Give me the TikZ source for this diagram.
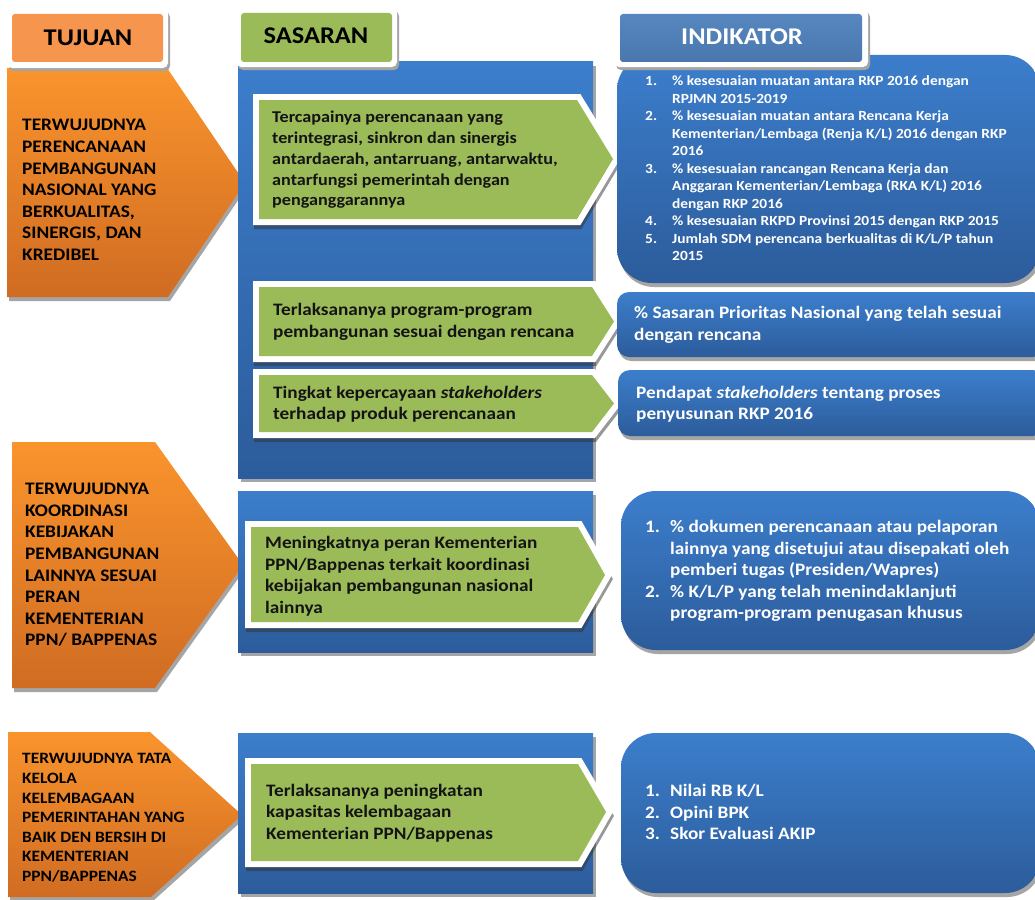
\documentclass[tikz,border=0pt]{standalone}
\usepackage{fontspec}
\setmainfont{Carlito}[FakeStretch=1.1]
\definecolor{orgTop}{RGB}{250,148,45}
\definecolor{orgBot}{RGB}{208,108,34}
\definecolor{orgHead}{RGB}{246,150,78}
\definecolor{grn}{RGB}{155,187,89}
\definecolor{bluTop}{RGB}{60,126,204}
\definecolor{bluBot}{RGB}{44,92,155}
\definecolor{bluHead}{RGB}{79,129,189}
\definecolor{shd}{RGB}{165,165,165}
\newcommand{\fs}[2]{\fontsize{#1}{#2}\selectfont}
\newcommand{\itm}[1]{\makebox[27pt][l]{#1}}
\newcommand{\itmb}[1]{\makebox[25pt][l]{#1}}
\tikzset{
  otext/.style={anchor=west, align=left, inner sep=0pt, text=black},
  gtext/.style={anchor=west, align=left, inner sep=0pt, text=black!92},
  itext/.style={anchor=west, align=left, inner sep=0pt, text=white},
  htext/.style={inner sep=0pt, font=\fs{24}{28}\bfseries},
  orangearrow/.style={top color=orgTop, bottom color=orgBot},
  graysh/.style={fill=shd},
  bluepanel/.style={top color=bluTop, bottom color=bluBot},
  greenarrow/.style={fill=grn,
    preaction={draw=black!80, line width=12pt, opacity=.5, transform canvas={shift={(1pt,-4pt)}}},
    preaction={draw=white, line width=12pt}},
  headframe/.style={fill=white, rounded corners=5pt, preaction={fill=shd, transform canvas={shift={(2pt,-3pt)}}}},
}
\begin{document}
\begin{tikzpicture}[x=1pt,y=-1pt]
\path[use as bounding box, clip] (0,0) rectangle (1035,899);
\fill[white] (0,0) rectangle (1035,899);

% ---------- orange arrows (Tujuan) ----------
\fill[graysh] (9,72) -- (169,72) -- (247,187) -- (170,301) -- (9,301) -- cycle;
\shade[orangearrow] (7,68) -- (167,68) -- (245,183) -- (168,297) -- (7,297) -- cycle;
\fill[graysh] (14,446) -- (157,446) -- (245,569) -- (157,692) -- (14,692) -- cycle;
\shade[orangearrow] (12,442) -- (155,442) -- (243,565) -- (155,688) -- (12,688) -- cycle;
\fill[graysh] (10,736) -- (152,736) -- (244,819) -- (153,901) -- (10,901) -- cycle;
\shade[orangearrow] (8,732) -- (150,732) -- (242,815) -- (151,897) -- (8,897) -- cycle;

% ---------- blue panels (Sasaran) ----------
\fill[graysh] (241,66) rectangle (596,482);
\shade[bluepanel] (238,62) rectangle (593,478);
\fill[graysh] (241,495) rectangle (596,656);
\shade[bluepanel] (238,491) rectangle (593,652);
\fill[graysh] (241,737) rectangle (596,897);
\shade[bluepanel] (238,733) rectangle (593,893);

% ---------- green arrows ----------
\path[greenarrow] (259,100) -- (577,100) -- (613,159) -- (577,219) -- (259,219) -- cycle;
\path[greenarrow] (259,287) -- (592,287) -- (614,321.5) -- (592,356) -- (259,356) -- cycle;
\path[greenarrow] (259,375) -- (592,375) -- (614,403.5) -- (592,432) -- (259,432) -- cycle;
\path[greenarrow] (251,527) -- (578,527) -- (605,575) -- (578,622) -- (251,622) -- cycle;
\path[greenarrow] (251,764) -- (578,764) -- (606,812) -- (578,861) -- (251,861) -- cycle;

% ---------- indicator boxes ----------
\fill[graysh, rounded corners=35pt] (619,59) rectangle (1042,287);
\shade[bluepanel, rounded corners=35pt] (617,55) rectangle (1040,283);
\fill[graysh, rounded corners=12pt] (619,296) rectangle (1047,361);
\shade[bluepanel, rounded corners=12pt] (617,292) rectangle (1045,357);
\fill[graysh, rounded corners=12pt] (620,374) rectangle (1047,440);
\shade[bluepanel, rounded corners=12pt] (618,370) rectangle (1045,436);
\fill[graysh, rounded corners=35pt] (623,495) rectangle (1042,654);
\shade[bluepanel, rounded corners=35pt] (621,491) rectangle (1040,650);
\fill[graysh, rounded corners=35pt] (623,737) rectangle (1042,897);
\shade[bluepanel, rounded corners=35pt] (621,733) rectangle (1040,893);

% ---------- headers ----------
\path[headframe] (7,9) rectangle (168,68);
\fill[orgHead, rounded corners=3pt] (12,14) rectangle (163,62);
\node[htext, text=black] (hTujuan) at (88,38) {TUJUAN};
\path[headframe] (236,8) rectangle (397,67);
\fill[grn, rounded corners=3pt] (241,13) rectangle (392,62);
\node[htext, text=black] (hSasaran) at (316,36) {SASARAN};
\path[headframe] (614,9) rectangle (868,67);
\shade[top color=bluHead!95!white, bottom color=bluHead!92!black, rounded corners=3pt] (620,14) rectangle (862,62);
\node[htext, text=white] (hIndikator) at (742,37) {INDIKATOR};

% ---------- texts: tujuan ----------
\node[otext, font=\fs{17.6}{21.6}\bfseries] (tuj1) at (22,190)
  {TERWUJUDNYA\\PERENCANAAN\\PEMBANGUNAN\\NASIONAL YANG\\BERKUALITAS,\\SINERGIS, DAN\\KREDIBEL};
\node[otext, font=\fs{17.6}{21.6}\bfseries] (tuj2) at (25,565)
  {TERWUJUDNYA\\KOORDINASI\\KEBIJAKAN\\PEMBANGUNAN\\LAINNYA SESUAI\\PERAN\\KEMENTERIAN\\PPN/ BAPPENAS};
\node[otext, font=\fs{15.8}{19.6}\bfseries] (tuj3) at (22,818)
  {TERWUJUDNYA TATA\\KELOLA\\KELEMBAGAAN\\PEMERINTAHAN YANG\\BAIK DEN BERSIH DI\\KEMENTERIAN\\PPN/BAPPENAS};

% ---------- texts: sasaran ----------
\node[gtext, font=\fs{16.5}{20.8}\bfseries] (sas1) at (272,160)
  {Tercapainya perencanaan yang\\terintegrasi, sinkron dan sinergis\\antardaerah, antarruang, antarwaktu,\\antarfungsi pemerintah dengan\\penganggarannya};
\node[gtext, font=\fs{17.5}{21.5}\bfseries] (sas2) at (273,322)
  {Terlaksananya program-program\\pembangunan sesuai dengan rencana};
\node[gtext, font=\fs{17.5}{21.5}\bfseries] (sas3) at (273,404)
  {Tingkat kepercayaan \textit{stakeholders}\\terhadap produk perencanaan};
\node[gtext, font=\fs{17.5}{21.5}\bfseries] (sas4) at (265,576)
  {Meningkatnya peran Kementerian\\PPN/Bappenas terkait koordinasi\\kebijakan pembangunan nasional\\lainnya};
\node[gtext, font=\fs{17.5}{21.5}\bfseries] (sas5) at (266,813)
  {Terlaksananya peningkatan\\kapasitas kelembagaan\\Kementerian PPN/Bappenas};

% ---------- texts: indikator ----------
\node[itext, font=\fs{14}{17.5}\bfseries] (ind1) at (645,168.5)
  {\itm{1.}\% kesesuaian muatan antara RKP 2016 dengan\\
   \hspace*{27pt}RPJMN 2015-2019\\
   \itm{2.}\% kesesuaian muatan antara Rencana Kerja\\
   \hspace*{27pt}Kementerian/Lembaga (Renja K/L) 2016 dengan RKP\\
   \hspace*{27pt}2016\\
   \itm{3.}\% kesesuaian rancangan Rencana Kerja dan\\
   \hspace*{27pt}Anggaran Kementerian/Lembaga (RKA K/L) 2016\\
   \hspace*{27pt}dengan RKP 2016\\
   \itm{4.}\% kesesuaian RKPD Provinsi 2015 dengan RKP 2015\\
   \itm{5.}Jumlah SDM perencana berkualitas di K/L/P tahun\\
   \hspace*{27pt}2015};
\node[itext, font=\fs{17.5}{21.5}\bfseries] (ind2) at (634,325)
  {\% Sasaran Prioritas Nasional yang telah sesuai\\dengan rencana};
\node[itext, font=\fs{17.5}{21.5}\bfseries] (ind3) at (636,404)
  {Pendapat \textit{stakeholders} tentang proses\\penyusunan RKP 2016};
\node[itext, font=\fs{17.5}{21.6}\bfseries] (ind4) at (645,571)
  {\itmb{1.}\% dokumen perencanaan atau pelaporan\\
   \hspace*{25pt}lainnya yang disetujui atau disepakati oleh\\
   \hspace*{25pt}pemberi tugas (Presiden/Wapres)\\
   \itmb{2.}\% K/L/P yang telah menindaklanjuti\\
   \hspace*{25pt}program-program penugasan khusus};
\node[itext, font=\fs{17.5}{21.8}\bfseries] (ind5) at (645,812)
  {\itmb{1.}Nilai RB K/L\\\itmb{2.}Opini BPK\\\itmb{3.}Skor Evaluasi AKIP};
\end{tikzpicture}
\end{document}
